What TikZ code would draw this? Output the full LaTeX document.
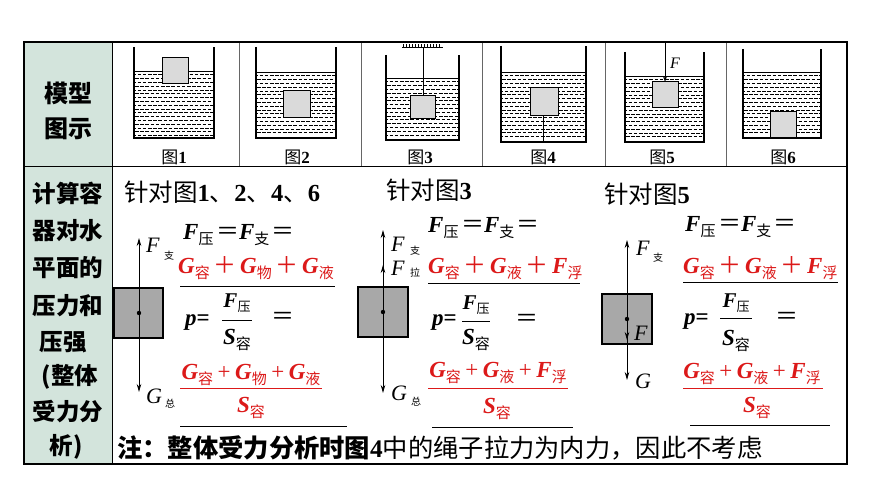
\documentclass[tikz,border=0pt]{standalone}
\usepackage{fontspec}
\setmainfont{Liberation Serif}
\newfontfamily\cjk{Noto Sans CJK SC}
\usetikzlibrary{arrows.meta}
\definecolor{rd}{RGB}{220,25,25}
\definecolor{lc}{RGB}{211,228,220}
\definecolor{blkl}{RGB}{218,218,218}
\definecolor{blkg}{RGB}{168,168,168}
\newcommand\BI[1]{\textbf{\textit{#1}}}
\newcommand\zs[2]{\raisebox{-0.2em}{\fontsize{#1}{#1}\selectfont\cjk #2}}
\newcommand\fs[1]{\fontsize{#1}{#1}\selectfont}
\newcommand\EQ{\hspace{2.5pt}{\cjk ＝}}
\newcommand\PL{\hspace{3.7pt}{\cjk ＋}\hspace{3.7pt}}
\newcommand\pl{\hspace{4.5pt}+\hspace{4.5pt}}
\tikzset{
  wall/.style={line width=1.3pt},
  blk/.style={draw=black,line width=1pt,fill=blkl},
  blkd/.style={draw=black,line width=1.2pt,fill=blkg},
  frc/.style={line width=0.8pt,-{Stealth[length=8pt,width=4.5pt]}},
  eq/.style={inner sep=0pt,anchor=west},
  ctr/.style={inner sep=0pt},
  ln/.style={line width=0.9pt},
  rln/.style={line width=0.9pt,draw=rd},
  lbl/.style={inner sep=0pt,font=\fs{17}},
}
\newcommand\water[4]{%
  \draw[line width=0.9pt] (#1,#3) -- (#2,#3);
  \pgfmathsetmacro\wya{#3+3.8}\pgfmathsetmacro\wyb{#3+7.6}\pgfmathsetmacro\wye{#4-1.8}
  \foreach \yy [count=\ii] in {\wya,\wyb,...,\wye}{
    \pgfmathsetmacro\ph{mod(\ii,2)*2.6}
    \draw[line width=0.7pt,dash pattern=on 3.6pt off 1.6pt,dash phase=\ph pt] (#1+1,\yy) -- (#2-1,\yy);
  }}
\newcommand\beaker[4]{\draw[wall] (#1,#3) -- (#1,#4) -- (#2,#4) -- (#2,#3);}
\begin{document}
\begin{tikzpicture}[x=1pt,y=-1pt]
\useasboundingbox (0,0) rectangle (870,489);
\fill[white] (0,0) rectangle (870,489);
% table
\fill[lc] (24,42) rectangle (112,464);
\draw[line width=1pt,draw=black!60] (239,42) -- (239,167) (361,42) -- (361,167) (482,42) -- (482,167) (605,42) -- (605,167) (726,42) -- (726,167);
\draw[line width=1pt] (24,167) -- (847,167);
\draw[line width=1pt] (112,42) -- (112,464);
\draw[line width=1.2pt] (24,42) rectangle (847,464);
% left column
\node[ctr] (m1) at (68,93) {\fs{24}\cjk\bfseries 模型};
\node[ctr] (m2) at (68,129) {\fs{24}\cjk\bfseries 图示};
\node[ctr] (l1) at (68,193) {\fs{23.5}\cjk\bfseries 计算容};
\node[ctr] (l2) at (68,231) {\fs{23.5}\cjk\bfseries 器对水};
\node[ctr] (l3) at (68,268) {\fs{23.5}\cjk\bfseries 平面的};
\node[ctr] (l4) at (68,306) {\fs{23.5}\cjk\bfseries 压力和};
\node[ctr] (l5) at (63,342) {\fs{23.5}\cjk\bfseries 压强};
\node[ctr] (l6) at (70,377) {\fs{23.5}\cjk\bfseries (整体};
\node[ctr] (l7) at (68,412) {\fs{23.5}\cjk\bfseries 受力分};
\node[ctr] (l8) at (66,447) {\fs{23.5}\cjk\bfseries 析)};
% fig1
\water{134}{214}{71}{138}
\draw[blk] (162,58) rectangle (188,84);
\beaker{134}{214}{47}{138}
\node[lbl] (g1) at (174,157) {{\cjk 图}\textbf{1}};
% fig2
\water{256}{336}{72}{138}
\draw[blk] (283,91) rectangle (310,118);
\beaker{256}{336}{47}{138}
\node[lbl] (g2) at (297,157) {{\cjk 图}\textbf{2}};
% fig3
\water{386}{459}{78}{140}
\coordinate (h3) at (423,47);
\coordinate (k3) at (423,96);
\draw[line width=0.8pt] (h3) -- (k3);
\draw[blk] (410,96) rectangle (435,119);
\beaker{386}{459}{55}{140}
\draw[line width=0.8pt] (402,47) -- (443,47);
\foreach \xx in {403.5,406.5,...,442}{\draw[line width=0.5pt] (\xx,47) -- (\xx,44.3);}
\node[lbl] (g3) at (420,157) {{\cjk 图}\textbf{3}};
% fig4
\water{501}{586}{72}{142}
\draw[blk] (530,88) rectangle (558,116);
\coordinate (s4a) at (543,116);
\coordinate (s4b) at (543,142);
\draw[line width=0.8pt] (s4a) -- (s4b);
\beaker{501}{586}{46}{142}
\node[lbl] (g4) at (543,157) {{\cjk 图}\textbf{4}};
% fig5
\water{625}{704}{76}{142}
\draw[blk] (652,82) rectangle (678,108);
\beaker{625}{704}{52}{142}
\coordinate (f5a) at (665,43);
\coordinate (f5b) at (665,82);
\draw[line width=0.8pt,-{Stealth[length=6pt,width=4pt]}] (f5a) -- (f5b);
\node[inner sep=0pt] (fl5) at (675,63) {\fs{16}\textit{F}};
\node[lbl] (g5) at (662,157) {{\cjk 图}\textbf{5}};
% fig6
\water{743}{821}{72}{138}
\draw[blk] (770,112) rectangle (796,138);
\beaker{743}{821}{49}{138}
\node[lbl] (g6) at (783,157) {{\cjk 图}\textbf{6}};
% headers
\node[eq] (h1) at (124,192) {\fs{24.5}{\cjk 针对图}\textbf{1}{\cjk 、}\textbf{2}{\cjk 、}\textbf{4}{\cjk 、}\textbf{6}};
\node[eq] (h2) at (386,190) {\fs{24.5}{\cjk 针对图}\textbf{3}};
\node[eq] (h5) at (604,194) {\fs{24.5}{\cjk 针对图}\textbf{5}};
% force diagram 1
\draw[blkd] (114,288) rectangle (163,338);
\coordinate (c1) at (139,313); \coordinate (t1) at (139,238); \coordinate (b1) at (139,392);
\draw[frc] (c1) -- (t1); \draw[frc] (c1) -- (b1); \fill (c1) circle (2.2);
\node[inner sep=0pt] (fa1) at (153,245) {\fs{22}\textit{F}};
\node[inner sep=0pt] (fa1s) at (169,256) {\fs{10}\cjk 支};
\node[inner sep=0pt] (ga1) at (154,396) {\fs{22}\textit{G}};
\node[inner sep=0pt] (ga1s) at (170,404) {\fs{10}\cjk 总};
% force diagram 2
\draw[blkd] (358,287) rectangle (408,337);
\coordinate (c2) at (383,312); \coordinate (t2) at (383,230); \coordinate (m2c) at (383,265); \coordinate (b2) at (383,393);
\draw[frc] (c2) -- (t2); \draw[frc] (c2) -- (m2c); \draw[frc] (c2) -- (b2); \fill (c2) circle (2.2);
\node[inner sep=0pt] (fa2) at (398,244) {\fs{22}\textit{F}};
\node[inner sep=0pt] (fa2s) at (415,251) {\fs{10}\cjk 支};
\node[inner sep=0pt] (fb2) at (398,268) {\fs{22}\textit{F}};
\node[inner sep=0pt] (fb2s) at (415,273) {\fs{10}\cjk 拉};
\node[inner sep=0pt] (ga2) at (399,393) {\fs{22}\textit{G}};
\node[inner sep=0pt] (ga2s) at (416,402) {\fs{10}\cjk 总};
% force diagram 3
\draw[blkd] (602,294) rectangle (652,344);
\coordinate (c3) at (627,319); \coordinate (t3) at (627,240); \coordinate (f3) at (627,340); \coordinate (b3) at (627,380);
\draw[frc] (c3) -- (t3); \draw[frc] (c3) -- (f3); \draw[frc] (c3) -- (b3); \fill (c3) circle (2.2);
\node[inner sep=0pt] (fa3) at (643,248) {\fs{22}\textit{F}};
\node[inner sep=0pt] (fa3s) at (658,258) {\fs{10}\cjk 支};
\node[inner sep=0pt] (ff3) at (641,333) {\fs{22}\textit{F}};
\node[inner sep=0pt] (ga3) at (643,381) {\fs{22}\textit{G}};
% formulas 1
\node[eq] (e1a) at (183,235) {\fs{23}\BI{F}\zs{15}{压}\EQ\BI{F}\zs{15}{支}\EQ};
\node[eq,text=rd] (e1b) at (178,268) {\fs{23}\BI{G}\zs{15}{容}\PL\BI{G}\zs{15}{物}\PL\BI{G}\zs{15}{液}};
\draw[ln] (180,286) -- (335,286);
\node[eq] (p1) at (185,323) {\fs{23}\BI{p}\textbf{=}};
\node[ctr] (n1) at (237,303) {\fs{21}\BI{F}\zs{13}{压}};
\draw[ln] (222,320) -- (252,320);
\node[ctr] (d1) at (237,340) {\fs{23}\BI{S}\zs{15}{容}};
\node[ctr] (q1) at (283,318) {\fs{23}\cjk ＝};
\node[ctr,text=rd] (rn1) at (251,375) {\fs{23}\BI{G}\zs{15}{容}\pl\BI{G}\zs{15}{物}\pl\BI{G}\zs{15}{液}};
\draw[rln] (180,388) -- (322,388);
\node[ctr,text=rd] (rd1) at (251,408) {\fs{23}\BI{S}\zs{15}{容}};
\draw[ln] (180,426) -- (347,426);
% formulas 2
\node[eq] (e2a) at (428,228) {\fs{23}\BI{F}\zs{15}{压}\EQ\BI{F}\zs{15}{支}\EQ};
\node[eq,text=rd] (e2b) at (428,268) {\fs{23}\BI{G}\zs{15}{容}\PL\BI{G}\zs{15}{液}\PL\BI{F}\zs{15}{浮}};
\draw[ln] (428,283) -- (580,283);
\node[eq] (p2) at (432,323) {\fs{23}\BI{p}\textbf{=}};
\node[ctr] (n2) at (476,305) {\fs{21}\BI{F}\zs{13}{压}};
\draw[ln] (462,321) -- (490,321);
\node[ctr] (d2) at (476,340) {\fs{23}\BI{S}\zs{15}{容}};
\node[ctr] (q2) at (527,320) {\fs{23}\cjk ＝};
\node[ctr,text=rd] (rn2) at (498,373) {\fs{23}\BI{G}\zs{15}{容}\pl\BI{G}\zs{15}{液}\pl\BI{F}\zs{15}{浮}};
\draw[rln] (428,388) -- (568,388);
\node[ctr,text=rd] (rd2) at (497,409) {\fs{23}\BI{S}\zs{15}{容}};
\draw[ln] (432,427) -- (573,427);
% formulas 3
\node[eq] (e3a) at (685,227) {\fs{23}\BI{F}\zs{15}{压}\EQ\BI{F}\zs{15}{支}\EQ};
\node[eq,text=rd] (e3b) at (683,268) {\fs{23}\BI{G}\zs{15}{容}\PL\BI{G}\zs{15}{液}\PL\BI{F}\zs{15}{浮}};
\draw[ln] (683,282) -- (838,282);
\node[eq] (p3) at (684,322) {\fs{23}\BI{p}\textbf{=}};
\node[ctr] (n3) at (736,303) {\fs{21}\BI{F}\zs{13}{压}};
\draw[ln] (720,318) -- (752,318);
\node[ctr] (d3) at (736,341) {\fs{23}\BI{S}\zs{15}{容}};
\node[ctr] (q3) at (787,318) {\fs{23}\cjk ＝};
\node[ctr,text=rd] (rn3) at (752,374) {\fs{23}\BI{G}\zs{15}{容}\pl\BI{G}\zs{15}{液}\pl\BI{F}\zs{15}{浮}};
\draw[rln] (683,388) -- (823,388);
\node[ctr,text=rd] (rd3) at (757,408) {\fs{23}\BI{S}\zs{15}{容}};
\draw[ln] (690,425) -- (830,425);
% note
\node[eq] (note) at (117,448) {\fs{25.3}{\cjk\bfseries 注：整体受力分析时图}\textbf{4}{\cjk 中的绳子拉力为内力，因此不考虑}};
\end{tikzpicture}
\end{document}
